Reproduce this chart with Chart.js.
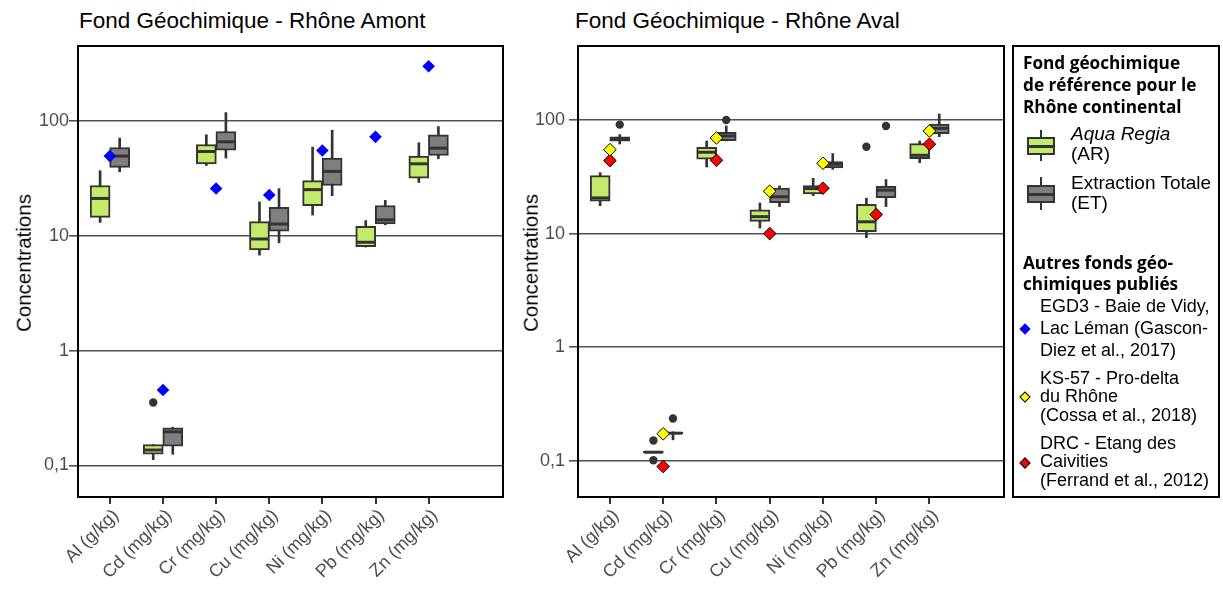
<!DOCTYPE html>
<html>
<head>
<meta charset="utf-8">
<script src="https://cdn.jsdelivr.net/npm/chart.js@4.4.1/dist/chart.umd.min.js"></script>
<style>
  html, body { margin: 0; padding: 0; background: #fff; }
  body { position: relative; width: 1223px; height: 595px; overflow: hidden; font-family: "Liberation Sans", Arial, sans-serif; }
  .ptitle { position: absolute; top: 9.5px; font-size: 22.5px; line-height: 22.5px; color: #000; white-space: nowrap; }
  .ytitle { position: absolute; top: 263px; font-size: 20.5px; line-height: 20.5px; color: #000; white-space: nowrap;
            transform: translate(-50%, -50%) rotate(-90deg); }
  canvas { position: absolute; top: 0; }
  #legendBox { position: absolute; left: 1012px; top: 45px; width: 208px; height: 453px; box-sizing: border-box; border: 2px solid #000; }
  .lh { position: absolute; left: 1023px; font-family: "Open Sans", sans-serif; font-weight: bold; font-size: 17.2px; line-height: 22px; color: #000; white-space: nowrap; }
  .lt { position: absolute; font-size: 18px; color: #000; white-space: nowrap; }
  .lt19 { font-size: 19px; }
  .wh { position: absolute; width: 2px; background: #333; }
  .bx { position: absolute; box-sizing: border-box; border: 2px solid #333; }
  .md { position: absolute; height: 3px; background: #333; }
  .dm { position: absolute; width: 8px; height: 8px; transform: rotate(45deg); box-sizing: border-box; }
</style>
</head>
<body>
<div class="ptitle" style="left:79px">Fond Géochimique - Rhône Amont</div>
<div class="ptitle" style="left:575px">Fond Géochimique - Rhône Aval</div>
<canvas id="c1" width="515" height="595" style="left:0px"></canvas>
<canvas id="c2" width="516" height="595" style="left:500px"></canvas>
<div class="ytitle" style="left:24px">Concentrations</div>
<div class="ytitle" style="left:530.5px">Concentrations</div>

<div id="legendBox"></div>
<div class="lh" style="top:52.3px">Fond géochimique<br>de référence pour le<br>Rhône continental</div>

<div class="wh" style="left:1040px;top:130px;height:31px"></div>
<div class="bx" style="left:1027px;top:137px;width:28px;height:18px;background:#c3eb6b"></div>
<div class="md" style="left:1027px;top:144.5px;width:28px"></div>
<div class="lt lt19" style="left:1071px;top:124px;line-height:20.3px"><i>Aqua Regia</i><br>(AR)</div>

<div class="wh" style="left:1040px;top:177px;height:33px"></div>
<div class="bx" style="left:1027px;top:185px;width:28px;height:18px;background:#7f7f7f"></div>
<div class="md" style="left:1027px;top:192.5px;width:28px"></div>
<div class="lt lt19" style="left:1071px;top:172.5px;line-height:20.3px">Extraction Totale<br>(ET)</div>

<div class="lh" style="top:251.9px;line-height:21.4px">Autres fonds géo-<br>chimiques publiés</div>

<div class="dm" style="left:1021px;top:325.3px;background:#0000ff"></div>
<div class="lt" style="left:1040px;top:294.7px;line-height:22.2px">EGD3 - Baie de Vidy,<br>Lac Léman (Gascon-<br>Diez et al., 2017)</div>

<div class="dm" style="left:1021px;top:392.7px;background:#ffff00;border:1px solid #000"></div>
<div class="lt" style="left:1040px;top:369.1px;line-height:18.3px">KS-57 - Pro-delta<br>du Rhône<br>(Cossa et al., 2018)</div>

<div class="dm" style="left:1021px;top:459.3px;background:#ff0000;border:1px solid #000"></div>
<div class="lt" style="left:1040px;top:434.2px;line-height:18.3px">DRC - Etang des<br>Caivities<br>(Ferrand et al., 2012)</div>

<script>
// ---------- DATA ----------
const categories = ['Al (g/kg)', 'Cd (mg/kg)', 'Cr (mg/kg)', 'Cu (mg/kg)', 'Ni (mg/kg)', 'Pb (mg/kg)', 'Zn (mg/kg)'];
const yTickValues = [0.1, 1, 10, 100];
const yTickLabels = ['0,1', '1', '10', '100'];

// boxplots: [min, q1, median, q3, max]
const amontAR = [
  [13.1, 14.5, 21.2, 27.5, 37.0],
  [0.112, 0.125, 0.136, 0.152, 0.152],
  [41.1, 42.5, 54.4, 62.6, 76.0],
  [6.8, 7.55, 9.4, 13.3, 19.8],
  [15.2, 18.3, 25.3, 30.3, 59.4],
  [8.0, 8.07, 8.8, 12.1, 13.6],
  [29.2, 31.9, 42.5, 49.6, 64.8]
];
const amontET = [
  [36.2, 39.5, 49.6, 58.9, 71.2],
  [0.125, 0.147, 0.196, 0.212, 0.215],
  [47.7, 56.0, 66.1, 81.2, 118.8],
  [8.7, 11.0, 12.7, 17.7, 25.8],
  [22.4, 27.5, 36.5, 47.7, 83.5],
  [12.5, 12.7, 13.8, 18.4, 20.4],
  [47.0, 50.2, 58.2, 76.0, 89.8]
];
const amontAROutliers = [[], [0.353], [], [], [], [], []];
const amontETOutliers = [[], [], [], [], [], [], []];
const egd3 = [49.6, 0.454, 25.9, 22.7, 55.5, 73.0, 301];

const avalAR = [
  [17.6, 19.3, 20.6, 32.4, 34.4],
  [0.119, 0.117, 0.119, 0.121, 0.119],
  [38.6, 45.1, 52.0, 57.5, 65.3],
  [11.2, 12.8, 14.1, 16.2, 18.6],
  [21.6, 22.4, 24.9, 26.4, 30.7],
  [9.2, 10.4, 12.7, 18.1, 20.5],
  [42.1, 45.7, 48.9, 61.9, 65.3]
];
const avalET = [
  [61.5, 65.0, 68.1, 70.9, 74.3],
  [0.153, 0.172, 0.175, 0.178, 0.180],
  [65.5, 65.8, 72.3, 77.9, 88.6],
  [17.3, 18.7, 21.1, 25.2, 26.3],
  [36.8, 37.8, 40.8, 43.0, 50.6],
  [17.3, 20.7, 24.1, 26.1, 29.9],
  [71.3, 75.8, 84.5, 92.2, 113.0]
];
const avalAROutliers = [[], [0.151, 0.101], [], [], [], [58.2], []];
const avalETOutliers = [[91.0], [0.236], [100.0], [], [], [88.6], []];
const ks57 = [54.8, 0.173, 69.5, 23.6, 41.6, null, 80.0];
const drc = [43.9, 0.089, 44.2, 10.0, 25.1, 14.7, 61.2];

// ---------- STYLE ----------
const FONT = '"Liberation Sans", Arial, sans-serif';
const GREEN = '#c3eb6b', GREY = '#7f7f7f', DARK = '#333333';
const DODGE = 0.184;

const frame = {
  id: 'frame',
  afterDraw(chart) {
    const {ctx, chartArea: a} = chart;
    ctx.save();
    ctx.strokeStyle = '#000';
    ctx.lineWidth = 2;
    ctx.strokeRect(a.left, a.top, a.right - a.left, a.bottom - a.top);
    ctx.restore();
  }
};

function boxSets(boxes, side, fill) {
  const xs = boxes.map((b, i) => i + 1 + side * DODGE);
  return [
    { type: 'bar', order: 5, grouped: false, barThickness: 2, backgroundColor: DARK, borderWidth: 0,
      data: boxes.map((b, i) => ({x: xs[i], y: [b[0], b[4]]})) },
    { type: 'bar', order: 4, grouped: false, barThickness: 20, backgroundColor: fill, borderColor: DARK,
      borderWidth: 2, borderSkipped: false,
      data: boxes.map((b, i) => ({x: xs[i], y: [b[1], b[3]]})) },
    { type: 'scatter', order: 3, pointStyle: 'line', pointRadius: 9, borderColor: DARK, borderWidth: 3,
      data: boxes.map((b, i) => ({x: xs[i], y: b[2]})) }
  ];
}
function outlierSet(outs, side) {
  const data = [];
  outs.forEach((arr, i) => arr.forEach(v => data.push({x: i + 1 + side * DODGE, y: v})));
  return { type: 'scatter', order: 2, pointStyle: 'circle', pointRadius: 4.2, backgroundColor: DARK,
           borderWidth: 0, data };
}
function refSet(vals, color, border) {
  const data = [];
  vals.forEach((v, i) => { if (v !== null) data.push({x: i + 1, y: v}); });
  return { type: 'scatter', order: 1, pointStyle: 'rectRot', pointRadius: 6.3, backgroundColor: color,
           borderColor: border ? '#000' : color, borderWidth: border ? 1 : 0, data };
}

function makePanel(id, ar, et, arOut, etOut, refs, yMin, yMax, tickPad) {
  const datasets = [
    ...boxSets(ar, -1, GREEN),
    ...boxSets(et, 1, GREY),
    outlierSet(arOut, -1),
    outlierSet(etOut, 1),
    ...refs
  ];
  return new Chart(document.getElementById(id), {
    type: 'bar',
    data: { datasets },
    plugins: [frame],
    options: {
      responsive: false,
      devicePixelRatio: 1,
      animation: false,
      layout: { padding: { top: 46, right: 3, left: 0, bottom: 0 } },
      plugins: { legend: { display: false }, tooltip: { enabled: false } },
      scales: {
        x: {
          type: 'linear', min: 0.4, max: 8.4, offset: false,
          afterBuildTicks: s => { s.ticks = categories.map((c, i) => ({value: i + 1})); },
          afterFit: s => { s.height = 98; s.paddingLeft = 0; s.paddingRight = 0; },
          ticks: {
            autoSkip: false, minRotation: 45, maxRotation: 45, padding: 1, labelOffset: 6,
            color: '#4d4d4d', font: { family: FONT, size: 18 },
            callback: (v, i) => categories[i]
          },
          grid: { offset: false, drawOnChartArea: false, drawTicks: true, tickLength: 7, color: DARK, lineWidth: 2 },
          border: { display: true, color: '#000', width: 2 }
        },
        y: {
          type: 'logarithmic', min: yMin, max: yMax,
          afterBuildTicks: s => { s.ticks = yTickValues.map(v => ({value: v})); },
          afterFit: s => { s.width = 78; },
          ticks: {
            padding: tickPad, color: '#4d4d4d', font: { family: FONT, size: 18 },
            callback: (v, i) => yTickLabels[i]
          },
          grid: { color: '#505050', lineWidth: 1.6, tickLength: 9 },
          border: { display: true, color: '#000', width: 2 },
          title: { display: false }
        }
      }
    }
  });
}

makePanel('c1', amontAR, amontET, amontAROutliers, amontETOutliers,
  [refSet(egd3, '#0000ff', false)], 0.053, 452, 0);
makePanel('c2', avalAR, avalET, avalAROutliers, avalETOutliers,
  [refSet(ks57, '#ffff00', true), refSet(drc, '#ff0000', true)], 0.048, 448, 4);
</script>
</body>
</html>
